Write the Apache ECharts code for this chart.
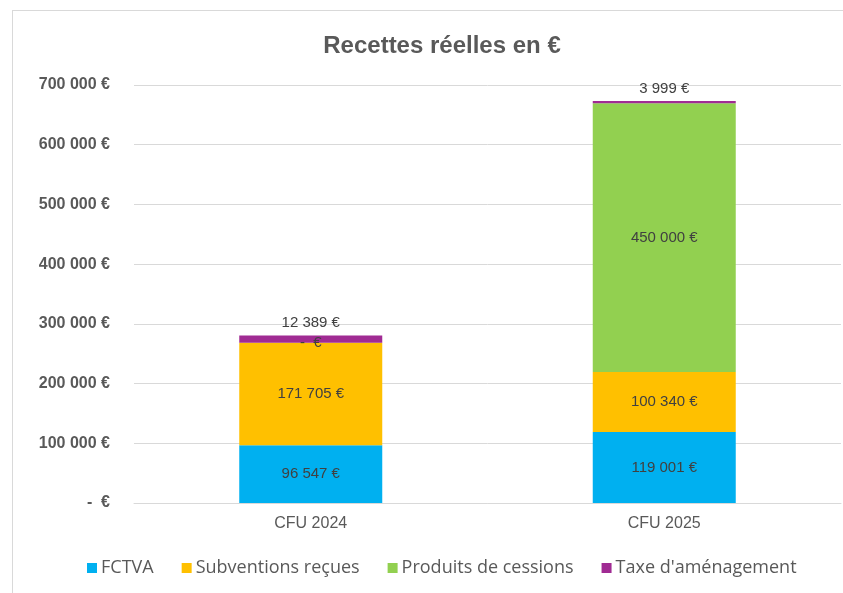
<!DOCTYPE html>
<html>
<head>
<meta charset="utf-8">
<script src="https://cdn.jsdelivr.net/npm/echarts@6/dist/echarts.min.js"></script>
<style>
  html, body { margin: 0; padding: 0; background: #fff; }
  #frame {
    position: absolute; left: 12px; top: 10px; width: 840px; height: 590px;
    border: 1px solid #d9d9d9; box-sizing: border-box;
  }
  #chart { position: absolute; left: 0; top: 0; width: 843px; height: 593px; }
</style>
</head>
<body>
<div id="frame"></div>
<div id="chart"></div>
<script>
// données
const categories = ["CFU 2024", "CFU 2025"];
const fctva = [96547, 119001];
const subventions = [171705, 100340];
const cessions = [0, 450000];
const taxe = [12389, 3999];
const yTicks = [0, 100000, 200000, 300000, 400000, 500000, 600000, 700000];

const FONT = "'Liberation Sans', Roboto, sans-serif";

function euro(v) {
  if (!v) return "-  €";
  return String(Math.round(v)).replace(/\B(?=(\d{3})+(?!\d))/g, " ") + " €";
}

const labelStyle = {
  show: true,
  color: "#404040",
  fontSize: 15,
  fontFamily: FONT,
  formatter: p => euro(p.value)
};

function serie(name, data, color, extra) {
  return Object.assign({
    name: name,
    type: "bar",
    stack: "total",
    barWidth: 143,
    data: data,
    itemStyle: { color: color },
    label: Object.assign({}, labelStyle, { position: "inside" })
  }, extra || {});
}

const chart = echarts.init(document.getElementById("chart"));
chart.setOption({
  animation: false,
  title: {
    text: "Recettes réelles en €",
    left: 437,
    textAlign: "center",
    top: 29,
    textStyle: { fontFamily: FONT, fontSize: 24, fontWeight: "bold", color: "#595959" }
  },
  legend: {
    top: 554,
    left: 82,
    icon: "rect",
    itemWidth: 10,
    itemHeight: 10,
    itemGap: 28,
    textStyle: { fontFamily: "'Open Sans', " + FONT, fontSize: 18, color: "#595959", padding: [0, 0, 0, -1] },
    data: ["FCTVA", "Subventions reçues", "Produits de cessions", "Taxe d'aménagement"]
  },
  grid: { left: 134, right: 2, top: 85, bottom: 90 },
  xAxis: {
    type: "category",
    data: categories,
    axisLine: { show: true, lineStyle: { color: "#d9d9d9" } },
    axisTick: { show: false },
    axisLabel: { fontFamily: FONT, fontSize: 16, color: "#595959", margin: 13 }
  },
  yAxis: {
    type: "value",
    min: yTicks[0],
    max: yTicks[yTicks.length - 1],
    interval: 100000,
    axisLine: { show: false },
    axisTick: { show: false },
    splitLine: { lineStyle: { color: "#d9d9d9" } },
    axisLabel: {
      fontFamily: FONT, fontSize: 16, fontWeight: "bold", color: "#595959", margin: 24,
      formatter: v => euro(v)
    }
  },
  series: [
    serie("FCTVA", fctva, "#00B0F0"),
    serie("Subventions reçues", subventions, "#FFC000"),
    serie("Produits de cessions", cessions, "#92D050"),
    serie("Taxe d'aménagement", taxe, "#A02B93", {
      label: Object.assign({}, labelStyle, { position: "top", distance: 5 })
    })
  ]
});
</script>
</body>
</html>
